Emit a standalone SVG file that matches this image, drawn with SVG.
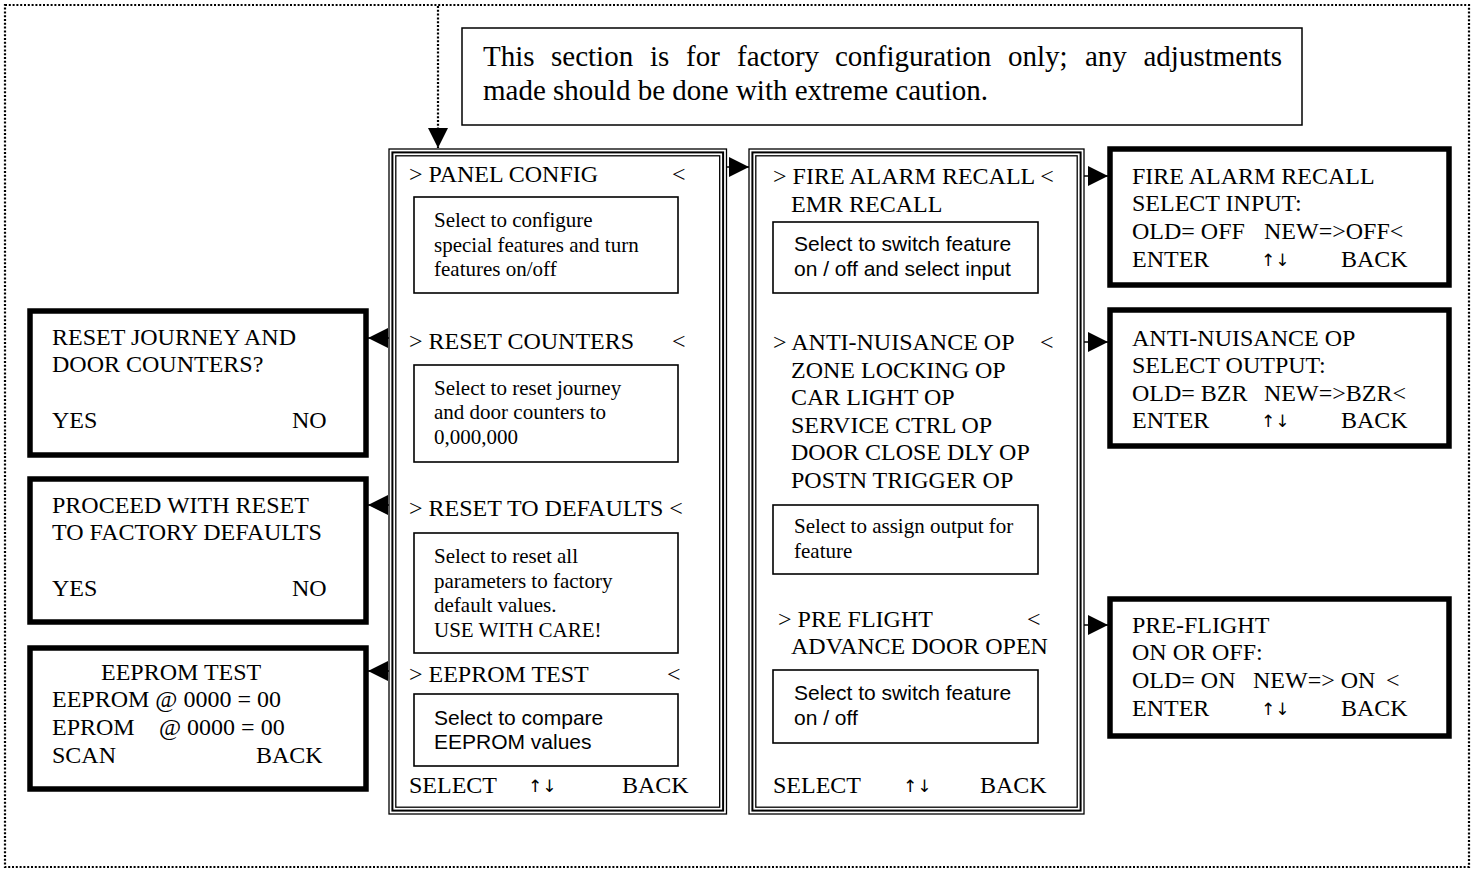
<svg xmlns="http://www.w3.org/2000/svg" width="1474" height="870" viewBox="0 0 1474 870">
<style>
.bg{fill:#fff}
.dot{fill:none;stroke:#000;stroke-width:2.2;stroke-dasharray:2 1.8}
.thin{fill:none;stroke:#000;stroke-width:1.3}
.mid{fill:none;stroke:#000;stroke-width:2}
.desc{fill:none;stroke:#000;stroke-width:1.6}
.thick{fill:#fff;stroke:#000;stroke-width:5.5}
.note{fill:#fff;stroke:#000;stroke-width:1.5}
.conn{fill:none;stroke:#000;stroke-width:1.5}
text{font-family:"Liberation Serif","Times New Roman",serif;fill:#000}
.t{font-size:24px}
.d{font-size:21px}
.s{font-family:"Liberation Sans",Arial,sans-serif;font-size:21px}
.n{font-size:29px}
.a{font-family:"DejaVu Sans",sans-serif;font-size:17px}
</style>
<defs>
<marker id="ah" markerUnits="userSpaceOnUse" markerWidth="22" markerHeight="22" refX="20" refY="10" orient="auto">
<path d="M0,0 L20,10 L0,20 Z" fill="#000"/>
</marker>
</defs>
<rect class="bg" x="0" y="0" width="1474" height="870"/>
<rect class="dot" x="5" y="5" width="1464" height="862"/>

<g id="note">
<rect class="note" x="462" y="28" width="840" height="97"/>
<text class="n" y="66"><tspan x="483">This</tspan><tspan x="551">section</tspan><tspan x="650">is</tspan><tspan x="686">for</tspan><tspan x="737">factory</tspan><tspan x="835">configuration</tspan><tspan x="1008">only;</tspan><tspan x="1085">any</tspan><tspan x="1282" text-anchor="end">adjustments</tspan></text>
<text class="n" x="483" y="100">made should be done with extreme caution.</text>
</g>

<g id="panel-config-menu">
<rect class="thin" x="389" y="149" width="337.5" height="665"/>
<rect class="mid" x="392.4" y="152.4" width="330.7" height="658.2"/>
<rect class="thin" x="395.8" y="155.8" width="323.9" height="651.4"/>
<text class="t" x="409" y="182">&gt; PANEL CONFIG</text><text class="t" x="672" y="182">&lt;</text>
<rect class="desc" x="414" y="197" width="264" height="96"/>
<text class="d" x="434" y="227">Select to configure</text>
<text class="d" x="434" y="252">special features and turn</text>
<text class="d" x="434" y="276">features on/off</text>
<text class="t" x="409" y="349">&gt; RESET COUNTERS</text><text class="t" x="672" y="349">&lt;</text>
<rect class="desc" x="414" y="365" width="264" height="97"/>
<text class="d" x="434" y="395">Select to reset journey</text>
<text class="d" x="434" y="419">and door counters to</text>
<text class="d" x="434" y="444">0,000,000</text>
<text class="t" x="409" y="516">&gt; RESET TO DEFAULTS &lt;</text>
<rect class="desc" x="414" y="533" width="264" height="120"/>
<text class="d" x="434" y="563">Select to reset all</text>
<text class="d" x="434" y="588">parameters to factory</text>
<text class="d" x="434" y="612">default values.</text>
<text class="d" x="434" y="637">USE WITH CARE!</text>
<text class="t" x="409" y="682">&gt; EEPROM TEST</text><text class="t" x="667" y="682">&lt;</text>
<rect class="desc" x="414" y="694" width="264" height="72"/>
<text class="s" x="434" y="725">Select to compare</text>
<text class="s" x="434" y="749">EEPROM values</text>
<text class="t" x="409" y="793">SELECT</text><text class="a" x="528" y="792">↑↓</text><text class="t" x="622" y="793">BACK</text>
</g>

<g id="feature-menu">
<rect class="thin" x="749" y="149" width="335" height="665"/>
<rect class="mid" x="752.4" y="152.4" width="328.2" height="658.2"/>
<rect class="thin" x="755.8" y="155.8" width="321.4" height="651.4"/>
<text class="t" x="773" y="184">&gt; FIRE ALARM RECALL &lt;</text>
<text class="t" x="791" y="212">EMR RECALL</text>
<rect class="desc" x="773" y="222" width="265" height="71"/>
<text class="s" x="794" y="251">Select to switch feature</text>
<text class="s" x="794" y="276">on / off and select input</text>
<text class="t" x="773" y="350">&gt; ANTI-NUISANCE OP</text><text class="t" x="1040" y="350">&lt;</text>
<text class="t" x="791" y="378">ZONE LOCKING OP</text>
<text class="t" x="791" y="405">CAR LIGHT OP</text>
<text class="t" x="791" y="433">SERVICE CTRL OP</text>
<text class="t" x="791" y="460">DOOR CLOSE DLY OP</text>
<text class="t" x="791" y="488">POSTN TRIGGER OP</text>
<rect class="desc" x="773" y="505" width="265" height="69"/>
<text class="d" x="794" y="533">Select to assign output for</text>
<text class="d" x="794" y="558">feature</text>
<text class="t" x="778" y="627">&gt; PRE FLIGHT</text><text class="t" x="1027" y="627">&lt;</text>
<text class="t" x="791" y="654">ADVANCE DOOR OPEN</text>
<rect class="desc" x="773" y="670" width="265" height="73"/>
<text class="s" x="794" y="700">Select to switch feature</text>
<text class="s" x="794" y="725">on / off</text>
<text class="t" x="773" y="793">SELECT</text><text class="a" x="903" y="792">↑↓</text><text class="t" x="980" y="793">BACK</text>
</g>

<g id="fire-alarm-screen">
<rect class="thick" x="1110" y="149" width="339" height="136"/>
<text class="t" x="1132" y="184">FIRE ALARM RECALL</text>
<text class="t" x="1132" y="211">SELECT INPUT:</text>
<text class="t" x="1132" y="239">OLD= OFF</text><text class="t" x="1264" y="239">NEW=&gt;OFF&lt;</text>
<text class="t" x="1132" y="267">ENTER</text><text class="a" x="1261" y="266">↑↓</text><text class="t" x="1341" y="267">BACK</text>
</g>

<g id="anti-nuisance-screen">
<rect class="thick" x="1110" y="310" width="339" height="136"/>
<text class="t" x="1132" y="346">ANTI-NUISANCE OP</text>
<text class="t" x="1132" y="373">SELECT OUTPUT:</text>
<text class="t" x="1132" y="401">OLD= BZR</text><text class="t" x="1264" y="401">NEW=&gt;BZR&lt;</text>
<text class="t" x="1132" y="428">ENTER</text><text class="a" x="1261" y="427">↑↓</text><text class="t" x="1341" y="428">BACK</text>
</g>

<g id="pre-flight-screen">
<rect class="thick" x="1110" y="599" width="339" height="137"/>
<text class="t" x="1132" y="633">PRE-FLIGHT</text>
<text class="t" x="1132" y="660">ON OR OFF:</text>
<text class="t" x="1132" y="688">OLD= ON</text><text class="t" x="1253" y="688">NEW=&gt; ON</text><text class="t" x="1386" y="688">&lt;</text>
<text class="t" x="1132" y="716">ENTER</text><text class="a" x="1261" y="715">↑↓</text><text class="t" x="1341" y="716">BACK</text>
</g>

<g id="reset-counters-screen">
<rect class="thick" x="30" y="311" width="336" height="144"/>
<text class="t" x="52" y="345">RESET JOURNEY AND</text>
<text class="t" x="52" y="372">DOOR COUNTERS?</text>
<text class="t" x="52" y="428">YES</text><text class="t" x="292" y="428">NO</text>
</g>

<g id="reset-defaults-screen">
<rect class="thick" x="30" y="479" width="336" height="143"/>
<text class="t" x="52" y="513">PROCEED WITH RESET</text>
<text class="t" x="52" y="540">TO FACTORY DEFAULTS</text>
<text class="t" x="52" y="596">YES</text><text class="t" x="292" y="596">NO</text>
</g>

<g id="eeprom-screen">
<rect class="thick" x="30" y="648" width="336" height="141"/>
<text class="t" x="101" y="680">EEPROM TEST</text>
<text class="t" x="52" y="707">EEPROM @ 0000 = 00</text>
<text class="t" x="52" y="735">EPROM</text><text class="t" x="159" y="735">@ 0000 = 00</text>
<text class="t" x="52" y="763">SCAN</text><text class="t" x="256" y="763">BACK</text>
</g>

<g id="connectors">
<path class="dot" d="M438,6 V148" marker-end="url(#ah)"/>
<path class="conn" d="M726,167 H749" marker-end="url(#ah)"/>
<path class="conn" d="M1084,176 H1108" marker-end="url(#ah)"/>
<path class="conn" d="M1084,342 H1108" marker-end="url(#ah)"/>
<path class="conn" d="M1084,625 H1108" marker-end="url(#ah)"/>
<path class="conn" d="M389,338 H368" marker-end="url(#ah)"/>
<path class="conn" d="M389,505 H368" marker-end="url(#ah)"/>
<path class="conn" d="M389,671 H368" marker-end="url(#ah)"/>
</g>
</svg>
